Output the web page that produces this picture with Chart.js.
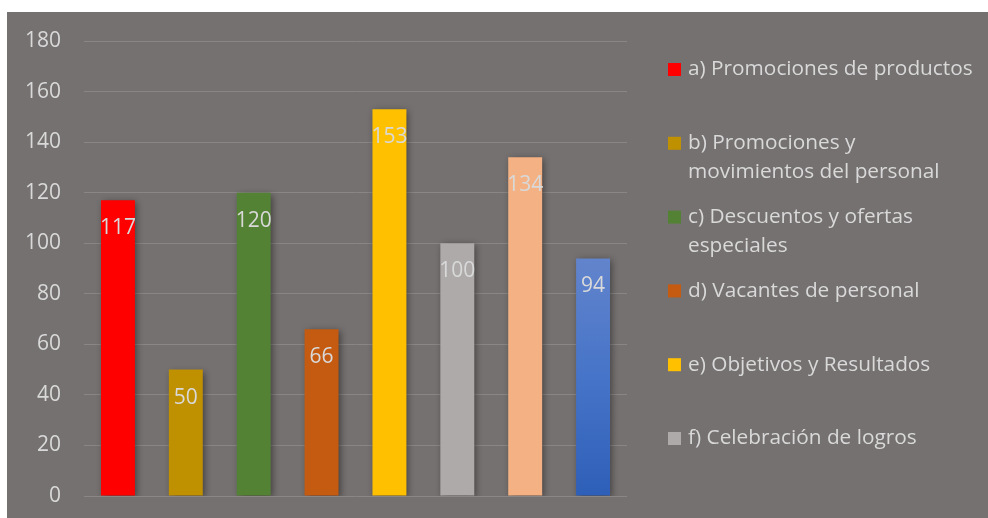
<!DOCTYPE html>
<html>
<head>
<meta charset="utf-8">
<script src="https://cdn.jsdelivr.net/npm/chart.js@4.4.1/dist/chart.umd.min.js"></script>
<style>
  html, body { margin: 0; padding: 0; background: #ffffff; }
  #panel { position: absolute; left: 7px; top: 12px; width: 981px; height: 506px; background: #767171; }
  #panel canvas { display: block; }
</style>
</head>
<body>
<div id="panel"><canvas id="chart" width="981" height="506"></canvas></div>
<script>
// Categories (letters a–h) and their counts
const categories = [
  'a) Promociones de productos',
  'b) Promociones y movimientos del personal',
  'c) Descuentos y ofertas especiales',
  'd) Vacantes de personal',
  'e) Objetivos y Resultados',
  'f) Celebración de logros',
  'g)',
  'h)'
];
const values = [117, 50, 120, 66, 153, 100, 134, 94];
const barColors = ['#FF0000', '#BF9000', '#548235', '#C55A11', '#FFC000', '#AEAAAA', '#F4B183', 'gradient'];
const tickValues = [0, 20, 40, 60, 80, 100, 120, 140, 160, 180];

// Legend entries, wrapped as they are laid out in the side panel
const legendLines = [
  ['a) Promociones de productos'],
  ['b) Promociones y', 'movimientos del personal'],
  ['c) Descuentos y ofertas', 'especiales'],
  ['d) Vacantes de personal'],
  ['e) Objetivos y Resultados'],
  ['f) Celebración de logros']
];

const TEXT = '#D9D9D9';
const FONT = '"Open Sans", "DejaVu Sans", sans-serif';

function barFill(ctx) {
  const c = barColors[ctx.dataIndex];
  if (c !== 'gradient') return c;
  const area = ctx.chart.chartArea;
  const yScale = ctx.chart.scales.y;
  if (!area || !yScale) return '#4472C4';
  const top = yScale.getPixelForValue(values[ctx.dataIndex]);
  const bottom = yScale.getPixelForValue(0);
  if (!isFinite(top) || !isFinite(bottom)) return '#4472C4';
  const g = ctx.chart.ctx.createLinearGradient(0, top, 0, bottom);
  g.addColorStop(0, '#6284CC');
  g.addColorStop(0.5, '#4674C8');
  g.addColorStop(1, '#2E5FB8');
  return g;
}

// Soft drop shadow under each bar
const barShadow = {
  id: 'barShadow',
  beforeDatasetsDraw(chart) {
    const c = chart.ctx;
    c.save();
    c.shadowColor = 'rgba(0,0,0,0.45)';
    c.shadowBlur = 7;
    c.shadowOffsetX = 2;
    c.shadowOffsetY = 2;
  },
  afterDatasetsDraw(chart) {
    chart.ctx.restore();
  }
};

// Value labels just inside the top of each bar
const valueLabels = {
  id: 'valueLabels',
  afterDatasetsDraw(chart) {
    const c = chart.ctx;
    const meta = chart.getDatasetMeta(0);
    c.save();
    c.font = '21px ' + FONT;
    c.fillStyle = TEXT;
    c.textAlign = 'center';
    c.textBaseline = 'middle';
    meta.data.forEach((bar, i) => {
      c.fillText(String(values[i]), bar.x, bar.y + 28);
    });
    c.restore();
  }
};

// Side legend with wrapped entries
const sideLegend = {
  id: 'sideLegend',
  afterDraw(chart) {
    const c = chart.ctx;
    c.save();
    c.font = '20.8px ' + FONT;
    c.textBaseline = 'middle';
    c.textAlign = 'left';
    const x0 = 661, firstY = 57.5, step = 73.8, lineH = 29, sq = 13;
    legendLines.forEach((lines, i) => {
      const y = firstY + i * step;
      c.fillStyle = barColors[i];
      c.fillRect(x0, y - sq / 2, sq, sq);
      c.fillStyle = TEXT;
      lines.forEach((t, j) => c.fillText(t, x0 + 20, y + j * lineH));
    });
    c.restore();
  }
};

new Chart(document.getElementById('chart'), {
  type: 'bar',
  data: {
    labels: categories,
    datasets: [{
      data: values,
      backgroundColor: barFill,
      borderWidth: 0,
      barPercentage: 0.5,
      categoryPercentage: 1
    }]
  },
  options: {
    responsive: false,
    animation: false,
    layout: { padding: { top: 29, bottom: 22, right: 361, left: 0 } },
    plugins: { legend: { display: false }, tooltip: { enabled: false } },
    scales: {
      x: { display: false },
      y: {
        min: 0,
        max: 180,
        afterBuildTicks(scale) { scale.ticks = tickValues.map(v => ({ value: v })); },
        afterFit(scale) {
          scale.width = 77;
          scale.paddingTop = 0;
          scale.paddingBottom = 0;
        },
        border: { display: false },
        grid: { color: '#8A8686', lineWidth: 1, drawTicks: false },
        ticks: { color: TEXT, padding: 23, font: { family: FONT, size: 21 } }
      }
    }
  },
  plugins: [barShadow, valueLabels, sideLegend]
});
</script>
</body>
</html>
